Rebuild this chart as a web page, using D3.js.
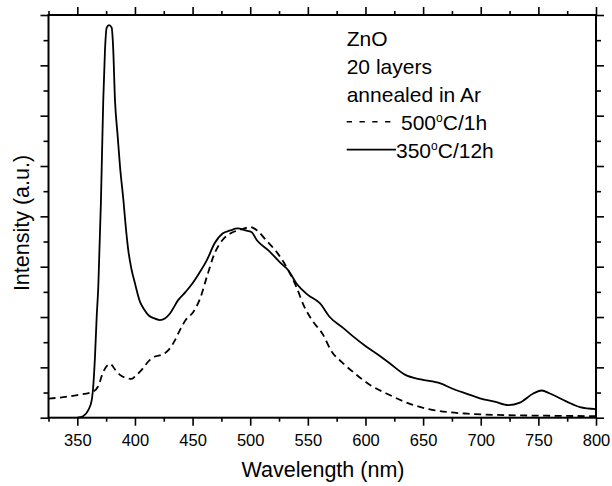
<!DOCTYPE html>
<html>
<head>
<meta charset="utf-8">
<script src="https://cdn.jsdelivr.net/npm/d3@7"></script>
<style>
  body { margin: 0; background: #fff; }
  text { font-family: "Liberation Sans", Arial, sans-serif; fill: #000; }
</style>
</head>
<body>
<div id="chart"></div>
<script>
// wavelength (nm) / intensity (a.u.)
var solidWl = [350, 355, 359.5, 362.5, 364, 365.3, 366.8, 368.2, 370.5, 372.5, 374, 375.5, 377.5, 379.8, 381, 382.7, 385, 387, 390, 392, 394.2, 397, 400, 404.4, 408, 412, 416, 421.7, 426, 430.4, 437.6, 444, 449, 455.7, 462.4, 469, 476, 482.7, 489, 496, 501, 506, 516, 526.5, 533, 540, 550, 560.6, 569, 580.8, 589.5, 600.8, 611, 621, 634.6, 648, 665, 675, 688.6, 699.3, 712, 724, 734, 745.6, 753, 760, 774.6, 786, 800];
var solidI  = [0, 0.03, 0.15, 0.35, 0.68, 1.2, 2.0, 2.6, 4.3, 6.3, 7.3, 7.75, 7.8, 7.75, 7.4, 6.3, 5.6, 5.0, 4.32, 3.8, 3.33, 2.95, 2.67, 2.3, 2.15, 2.03, 1.98, 1.94, 1.97, 2.07, 2.34, 2.5, 2.64, 2.87, 3.13, 3.46, 3.66, 3.72, 3.76, 3.72, 3.69, 3.52, 3.32, 3.07, 2.93, 2.67, 2.44, 2.27, 2.0, 1.78, 1.61, 1.41, 1.25, 1.08, 0.85, 0.76, 0.68, 0.58, 0.47, 0.385, 0.32, 0.25, 0.3, 0.48, 0.54, 0.48, 0.32, 0.21, 0.17];

var dashWl = [325, 335, 350, 363.9, 368, 372.5, 378.4, 383, 387, 392, 397, 401, 405.8, 413, 418, 423, 427, 430.4, 435, 439, 444, 450.6, 456.4, 462.4, 469, 476, 482.7, 489, 495, 499.5, 506, 514, 524, 533, 540, 547, 553.6, 563.4, 570, 580.6, 590.7, 604, 621, 638, 655, 672, 688.6, 722, 756, 800];
var dashI  = [0.38, 0.4, 0.45, 0.52, 0.62, 0.91, 1.07, 0.95, 0.85, 0.79, 0.77, 0.84, 0.95, 1.15, 1.22, 1.25, 1.3, 1.38, 1.55, 1.74, 1.94, 2.1, 2.36, 2.8, 3.26, 3.53, 3.66, 3.72, 3.76, 3.79, 3.72, 3.52, 3.26, 2.93, 2.6, 2.2, 1.94, 1.64, 1.34, 1.08, 0.88, 0.65, 0.45, 0.28, 0.17, 0.11, 0.08, 0.05, 0.04, 0.03];

var xMajor = [350, 400, 450, 500, 550, 600, 650, 700, 750, 800];
var xMinor = [325, 375, 425, 475, 525, 575, 625, 675, 725, 775];
var yMajor = [0, 1, 2, 3, 4, 5, 6, 7, 8];
var yMinor = [0.5, 1.5, 2.5, 3.5, 4.5, 5.5, 6.5, 7.5];

var noteLines = ["ZnO", "20 layers", "annealed in Ar"];
var seriesNames = [["500", "C/1h"], ["350", "C/12h"]];

var W = 612, H = 486;
var pLeft = 48.5, pRight = 596, pTop = 15, pBottom = 417.7;

var svg = d3.select("#chart").append("svg")
    .attr("width", W)
    .attr("height", H);

var x = d3.scaleLinear().domain([325, 800]).range([pLeft, pRight]);
var y = d3.scaleLinear().domain([0, 8]).range([pBottom, pTop]);

// axes, ticks pointing outward on all four sides
function addAxis(gen, tr, vals, size, labels) {
  var g = svg.append("g")
      .attr("transform", tr)
      .call(gen.tickValues(vals).tickSize(size).tickSizeOuter(0)
        .tickFormat(labels ? d3.format("d") : ""));
  g.select(".domain").remove();
  g.selectAll("line").attr("stroke", "#000").attr("stroke-width", 1.6);
  return g;
}

addAxis(d3.axisBottom(x), "translate(0," + pBottom + ")", xMinor, 4, false);
var xb = addAxis(d3.axisBottom(x), "translate(0," + pBottom + ")", xMajor, 8, true);
xb.selectAll("text")
    .attr("y", 28).attr("dy", 0)
    .style("font-size", "16.5px")
    .style("font-family", "'Liberation Sans', Arial, sans-serif");

addAxis(d3.axisTop(x), "translate(0," + pTop + ")", xMinor, 4, false);
addAxis(d3.axisTop(x), "translate(0," + pTop + ")", xMajor, 8, false);
addAxis(d3.axisLeft(y), "translate(" + pLeft + ",0)", yMinor, 5, false);
addAxis(d3.axisLeft(y), "translate(" + pLeft + ",0)", yMajor, 8, false);
addAxis(d3.axisRight(y), "translate(" + pRight + ",0)", yMinor, 5, false);
addAxis(d3.axisRight(y), "translate(" + pRight + ",0)", yMajor, 8, false);

svg.append("rect")
    .attr("x", pLeft).attr("y", pTop)
    .attr("width", pRight - pLeft).attr("height", pBottom - pTop)
    .attr("fill", "none")
    .attr("stroke", "#000")
    .attr("stroke-width", 2);

// curves
var line = d3.line()
    .x(function(d) { return x(d[0]); })
    .y(function(d) { return y(d[1]); })
    .curve(d3.curveMonotoneX);

svg.append("path")
    .datum(d3.zip(dashWl, dashI))
    .attr("d", line)
    .attr("fill", "none")
    .attr("stroke", "#000")
    .attr("stroke-width", 1.8)
    .attr("stroke-dasharray", "7,4.5");

svg.append("path")
    .datum(d3.zip(solidWl, solidI))
    .attr("d", line)
    .attr("fill", "none")
    .attr("stroke", "#000")
    .attr("stroke-width", 1.8);

// axis titles
svg.append("text")
    .attr("x", 323).attr("y", 477)
    .attr("text-anchor", "middle")
    .style("font-size", "21.5px")
    .text("Wavelength (nm)");

svg.append("text")
    .attr("transform", "translate(29,223) rotate(-90)")
    .attr("text-anchor", "middle")
    .style("font-size", "21.5px")
    .text("Intensity (a.u.)");

// legend / notes
var lx = 346.7, base = 46, step = 27.9;
noteLines.forEach(function(t, i) {
  svg.append("text")
      .attr("x", lx).attr("y", base + i * step)
      .style("font-size", "21px")
      .text(t);
});

var legY = [base + 3 * step, base + 4 * step];
var legLine = [[397, "5.3,7.5", 401], [396, null, 396]];
seriesNames.forEach(function(s, i) {
  var ly = legY[i] - 8;
  var ln = svg.append("line")
      .attr("x1", lx).attr("x2", legLine[i][0])
      .attr("y1", ly).attr("y2", ly)
      .attr("stroke", "#000")
      .attr("stroke-width", 1.6);
  if (legLine[i][1]) ln.attr("stroke-dasharray", legLine[i][1]);
  var t = svg.append("text")
      .attr("x", legLine[i][2]).attr("y", legY[i])
      .style("font-size", "21px");
  t.append("tspan").text(s[0]);
  t.append("tspan").attr("dy", -8).style("font-size", "12px").text("o");
  t.append("tspan").attr("dy", 8).text(s[1]);
});
</script>
</body>
</html>
